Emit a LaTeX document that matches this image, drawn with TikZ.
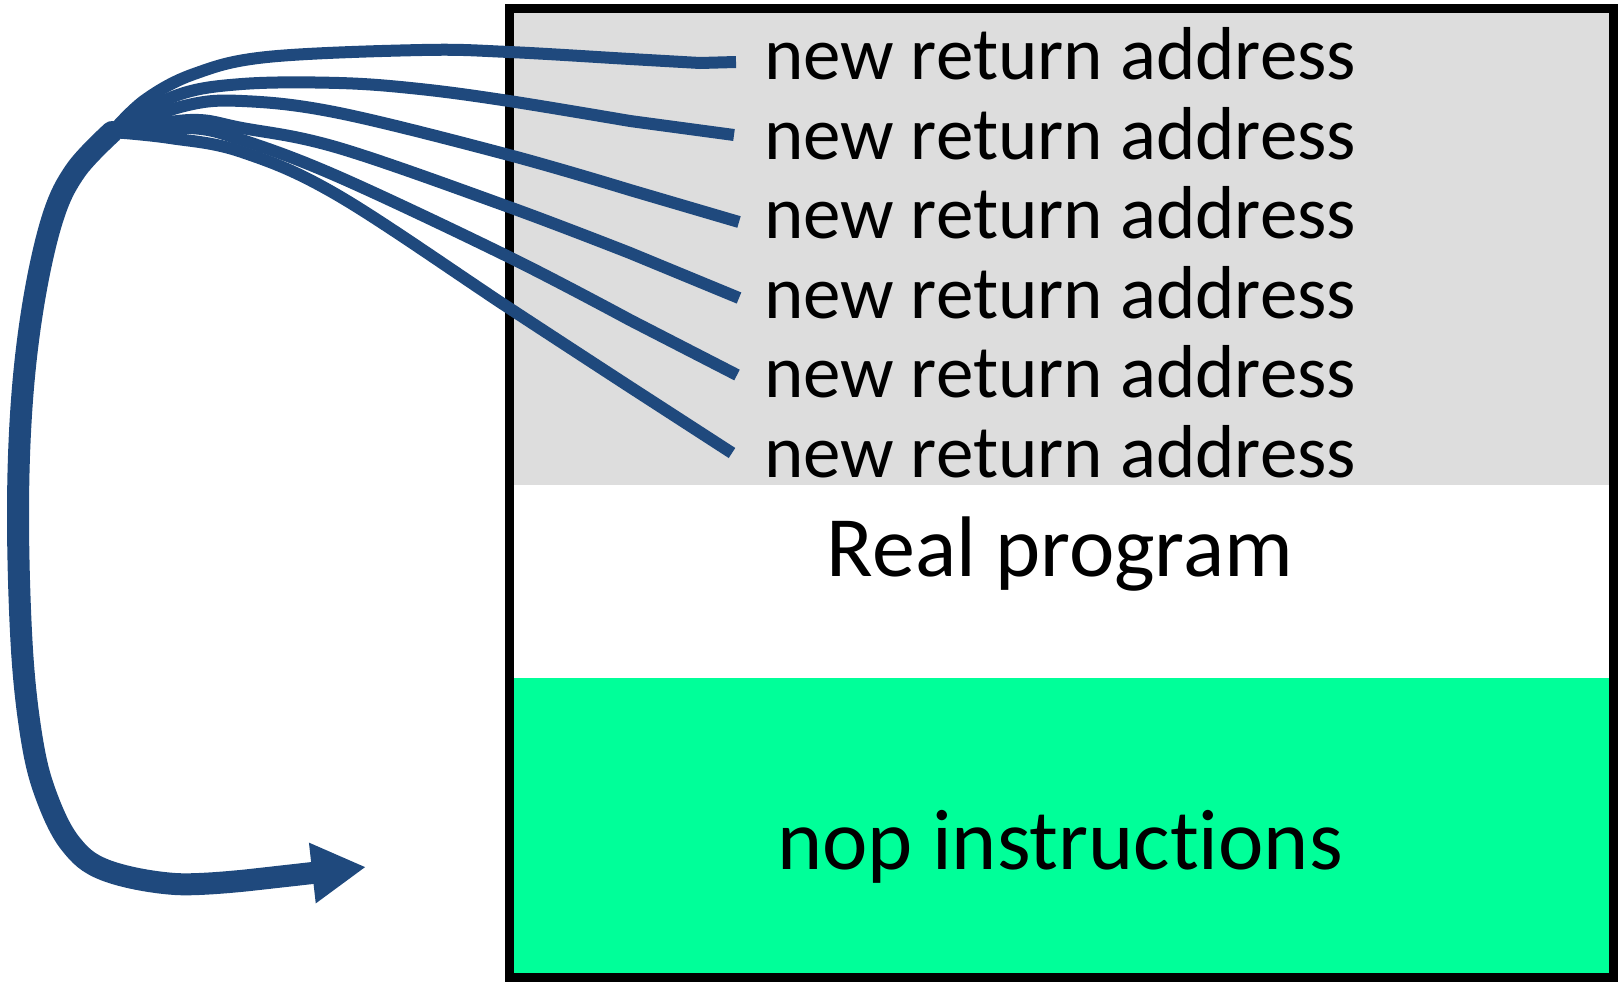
\documentclass[tikz,border=0pt]{standalone}
\usepackage{fontspec}
\setmainfont{Carlito}[RawFeature={-liga}]
\usetikzlibrary{arrows.meta}
\definecolor{fanblue}{RGB}{31,73,125}
\definecolor{stackgray}{RGB}{221,221,221}
\definecolor{nopgreen}{RGB}{0,255,153}
\begin{document}
\begin{tikzpicture}[x=1pt,y=-1pt,
  addr/.style={anchor=base,font=\fontsize{75}{90}\selectfont,inner sep=0pt},
  bigtext/.style={anchor=base,font=\fontsize{86}{103}\selectfont,inner sep=0pt},
  fanline/.style={draw=fanblue,line width=12pt,line cap=butt},
  loopline/.style={draw=fanblue,line width=22pt,line cap=round,
    -{Triangle[length=54pt,width=57pt]}}]
\useasboundingbox (0,0) rectangle (1618,982);
% regions of the stack box
\fill[stackgray] (509,9) rectangle (1613,485);
\fill[white] (509,485) rectangle (1613,678);
\fill[nopgreen] (509,678) rectangle (1613,978);
\draw[line width=9pt] (509.5,8.5) rectangle (1613.5,977.5);
% texts
\node[addr] (t1) at (1060,80) {new return address};
\node[addr] (t2) at (1060,159.4) {new return address};
\node[addr] (t3) at (1060,238.8) {new return address};
\node[addr] (t4) at (1060,318.2) {new return address};
\node[addr] (t5) at (1060,397.6) {new return address};
\node[addr] (t6) at (1060,477) {new return address};
\node[bigtext] (real) at (1060,576) {Real program};
\node[bigtext] (nop) at (1060,869) {nop instructions};
% connector end points
\coordinate (o) at (112,132);
\coordinate (e1) at (736,62);
\coordinate (e2) at (734,135);
\coordinate (e3) at (739,222);
\coordinate (e4) at (739,298);
\coordinate (e5) at (737,375);
\coordinate (e6) at (732,453);
\coordinate (tip) at (366,867);
% fan lines
\draw[fanline] plot[smooth,tension=0.6] coordinates {(o) (145,100) (194,74) (267,57) (422,50) (509,52) (630,59) (700,63)} -- (e1);
\draw[fanline] plot[smooth,tension=0.6] coordinates {(o) (175,96) (242,84) (339,83) (420,89) (509,101) (630,121)} -- (e2);
\draw[fanline] plot[smooth,tension=0.6] coordinates {(o) (184,106) (242,101) (339,113) (509,155) (630,190)} -- (e3);
\draw[fanline] plot[smooth,tension=0.6] coordinates {(o) (190,120) (242,128) (339,148) (509,207) (630,253)} -- (e4);
\draw[fanline] plot[smooth,tension=0.6] coordinates {(o) (190,128) (242,140) (339,177) (509,257) (630,320)} -- (e5);
\draw[fanline] plot[smooth,tension=0.6] coordinates {(o) (170,138) (242,152) (339,196) (509,308) (630,387)} -- (e6);
% big loop arrow
\draw[loopline] plot[smooth,tension=0.6] coordinates {(o) (76,170) (53,217) (34,300) (22,400) (18,516) (22,650) (32,740) (46,795) (70,843) (105,870) (175,884) (250,880)} -- (tip);
\end{tikzpicture}
\end{document}
